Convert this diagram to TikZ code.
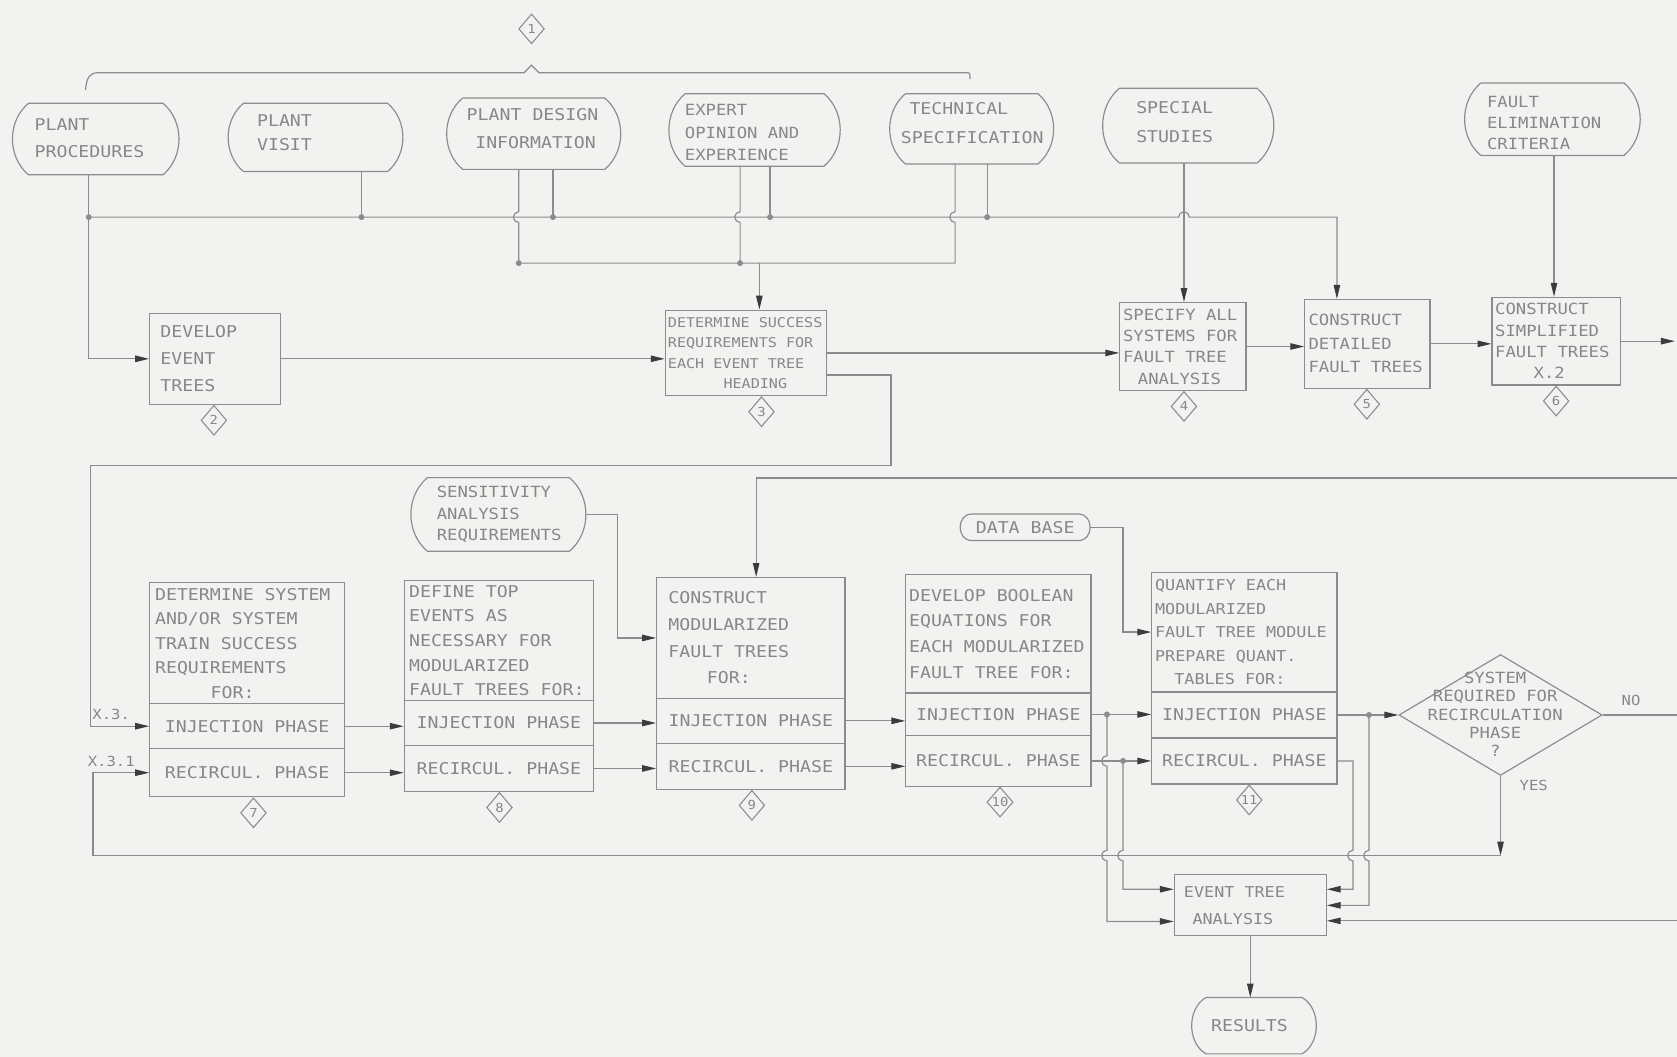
\documentclass[tikz,border=0pt]{standalone}
\usepackage{fontspec}
\newfontfamily\hand[FakeStretch=1.12]{DejaVu Sans Mono}
\usetikzlibrary{arrows.meta,shapes.geometric,fit}
\definecolor{bg}{RGB}{242,242,240}
\definecolor{lc}{RGB}{140,140,140}
\definecolor{tc}{RGB}{135,135,135}
\definecolor{ac}{RGB}{60,60,60}
\newcommand\hfs[2]{\hand\fontsize{#1}{#2}\selectfont}
\newcommand\leftblock[2]{\parbox{#1}{\raggedright #2}}
\newcommand\termoutline[2][bend left=50]{\draw[wire] (#2.north west) -- (#2.north east) to[#1] (#2.south east) -- (#2.south west) to[#1] (#2.north west);}
% text block centred in a box: name, width, font, text
\newcommand\boxtext[4]{\node[hdr,font=#3] (#1t) at (#1.center) {\leftblock{#2}{#4}};}
\newcommand\rowtext[2]{\node[txt] (#1t) at (#1.center) {#2};}
\tikzset{
 wire/.style={draw=lc,line width=0.55pt},
 warrow/.style={wire,-{Triangle[length=6.5pt,width=3pt,color=ac]}},
 procbox/.style={draw=lc,line width=0.55pt,rectangle,inner sep=0pt},
 termrect/.style={rectangle,inner sep=0pt},
 txt/.style={text=tc,inner sep=0pt,align=left,font=\hfs{7.6}{11.5}},
 hdr/.style={text=tc,inner sep=0pt},
 lbl/.style={text=tc,inner sep=0pt,font=\hfs{6.5}{7}},
 numtag/.style={draw=lc,line width=0.5pt,diamond,minimum width=12pt,minimum height=14pt,inner sep=0pt,text=tc,font=\hfs{5.8}{6}},
 decision/.style={draw=lc,line width=0.55pt,diamond,minimum width=95pt,minimum height=56.5pt,inner sep=0pt}
}
\begin{document}
\begin{tikzpicture}[x=0.5pt,y=-0.5pt]
\useasboundingbox (0,0) rectangle (1568,988);
\fill[bg] (0,0) rectangle (1568,988);

% ---------- top terminals ----------
\node[termrect,fit={(27,97) (152,163)}] (t1) {};
\termoutline{t1}
\node[txt,anchor=west,font=\hfs{7.6}{12.5}] (t1t) at (32,129) {PLANT\\PROCEDURES};
\node[termrect,fit={(228,97) (362,160)}] (t2) {};
\termoutline{t2}
\node[txt,anchor=west] (t2t) at (240,124) {PLANT\\VISIT};
\node[termrect,fit={(433,92) (565,158)}] (t3) {};
\termoutline{t3}
\node[txt,anchor=west,font=\hfs{7.6}{13}] (t3t) at (436,120) {PLANT DESIGN\\\hspace*{4pt}INFORMATION};
\node[termrect,fit={(641,88) (770,155)}] (t4) {};
\termoutline{t4}
\node[txt,anchor=west,font=\hfs{7.2}{10.5}] (t4t) at (640,124) {EXPERT\\OPINION AND\\EXPERIENCE};
\node[termrect,fit={(847,88) (970,153)}] (t5) {};
\termoutline{t5}
\node[txt,anchor=west,font=\hfs{7.6}{13.5}] (t5t) at (842,115) {\hspace*{4pt}TECHNICAL\\SPECIFICATION};
\node[termrect,fit={(1047,83) (1175,152)}] (t6) {};
\termoutline{t6}
\node[txt,anchor=west,font=\hfs{7.6}{13.5}] (t6t) at (1062,114) {SPECIAL\\STUDIES};
\node[termrect,fit={(1385,78) (1518,145)}] (t7) {};
\termoutline{t7}
\node[txt,anchor=west,font=\hfs{7.2}{10}] (t7t) at (1390,115) {FAULT\\ELIMINATION\\CRITERIA};

% bracket with tag 1
\draw[wire] (80,84) .. controls (81,72) and (84,68) .. (92,68) -- (490,68) -- (497,61) -- (504,68) -- (903,68) .. controls (907,68) .. (907,74);
\node[numtag] (d1) at (497,27) {1};

% ---------- row 1 boxes ----------
\node[procbox,fit={(140,293) (262,378)}] (n2) {};
\boxtext{n2}{51pt}{\hfs{7.6}{12.5}}{DEVELOP\\EVENT\\TREES}
\node[procbox,fit={(622,290) (773,370)}] (n3) {};
\boxtext{n3}{73pt}{\hfs{6.3}{9.5}}{DETERMINE SUCCESS\\REQUIREMENTS FOR\\EACH EVENT TREE\\\hspace*{26pt}HEADING}
\node[procbox,fit={(1047,283) (1165,365)}] (n4) {};
\boxtext{n4}{56pt}{\hfs{7.2}{10}}{SPECIFY ALL\\SYSTEMS FOR\\FAULT TREE\\\hspace*{7pt}ANALYSIS}
\node[procbox,fit={(1220,280) (1337,363)}] (n5) {};
\boxtext{n5}{55pt}{\hfs{7.2}{11}}{CONSTRUCT\\DETAILED\\FAULT TREES}
\node[procbox,fit={(1395,278) (1515,360)}] (n6) {};
\boxtext{n6}{57pt}{\hfs{7.2}{10}}{CONSTRUCT\\SIMPLIFIED\\FAULT TREES\\\hspace*{18pt}X.2}

\node[numtag] (d2) at (200,393) {2};
\node[numtag] (d3) at (712,385) {3};
\node[numtag] (d4) at (1107,380) {4};
\node[numtag] (d5) at (1278,378) {5};
\node[numtag] (d6) at (1455,375) {6};

% ---------- row 2 boxes ----------
\node[procbox,fit={(140,545) (322,658)}] (n7h) {};
\boxtext{n7h}{86pt}{\hfs{7.6}{11.5}}{DETERMINE SYSTEM\\AND/OR SYSTEM\\TRAIN SUCCESS\\REQUIREMENTS\\\hspace*{26pt}FOR:}
\node[procbox,fit={(140,658) (322,700)}] (n7i) {};
\rowtext{n7i}{INJECTION PHASE}
\node[procbox,fit={(140,700) (322,745)}] (n7r) {};
\rowtext{n7r}{RECIRCUL. PHASE}

\node[procbox,fit={(378,543) (555,655)}] (n8h) {};
\boxtext{n8h}{84pt}{\hfs{7.6}{11.5}}{DEFINE TOP\\EVENTS AS\\NECESSARY FOR\\MODULARIZED\\FAULT TREES FOR:}
\node[procbox,fit={(378,655) (555,697)}] (n8i) {};
\rowtext{n8i}{INJECTION PHASE}
\node[procbox,fit={(378,697) (555,740)}] (n8r) {};
\rowtext{n8r}{RECIRCUL. PHASE}

\node[procbox,fit={(614,540) (790,653)}] (n9h) {};
\boxtext{n9h}{77pt}{\hfs{7.6}{12.5}}{CONSTRUCT\\MODULARIZED\\FAULT TREES\\\hspace*{18pt}FOR:}
\node[procbox,fit={(614,653) (790,695)}] (n9i) {};
\rowtext{n9i}{INJECTION PHASE}
\node[procbox,fit={(614,695) (790,738)}] (n9r) {};
\rowtext{n9r}{RECIRCUL. PHASE}

\node[procbox,fit={(847,537) (1020,648)}] (n10h) {};
\boxtext{n10h}{83.5pt}{\hfs{7.6}{12}}{DEVELOP BOOLEAN\\EQUATIONS FOR\\EACH MODULARIZED\\FAULT TREE FOR:}
\node[procbox,fit={(847,648) (1020,688)}] (n10i) {};
\rowtext{n10i}{INJECTION PHASE}
\node[procbox,fit={(847,688) (1020,735)}] (n10r) {};
\rowtext{n10r}{RECIRCUL. PHASE}

\node[procbox,fit={(1077,535) (1250,647)}] (n11h) {};
\boxtext{n11h}{83.5pt}{\hfs{7}{11}}{QUANTIFY EACH\\MODULARIZED\\FAULT TREE MODULE\\PREPARE QUANT.\\\hspace*{9pt}TABLES FOR:}
\node[procbox,fit={(1077,647) (1250,690)}] (n11i) {};
\rowtext{n11i}{INJECTION PHASE}
\node[procbox,fit={(1077,690) (1250,733)}] (n11r) {};
\rowtext{n11r}{RECIRCUL. PHASE}

\node[numtag] (d7) at (237,760) {7};
\node[numtag] (d8) at (467,755) {8};
\node[numtag] (d9) at (703,753) {9};
\node[numtag] (d10) at (935,750) {10};
\node[numtag] (d11) at (1168,748) {11};

% inputs of row 2
\node[termrect,fit={(400,447) (532,515)}] (sens) {};
\termoutline{sens}
\node[txt,anchor=west,font=\hfs{7.2}{10}] (senst) at (408,481) {SENSITIVITY\\ANALYSIS\\REQUIREMENTS};
\node[termrect,fit={(909,481) (1008,505)}] (db) {};
\termoutline[bend left=90,looseness=1.5]{db}
\node[txt,anchor=west,font=\hfs{7.6}{8}] (dbt) at (912,493) {DATA BASE};

% decision
\node[decision] (dec) at (1403,668.5) {};
\node[txt,align=center,font=\hfs{7.2}{8.5}] (dect) at (1398,668) {SYSTEM\\REQUIRED FOR\\RECIRCULATION\\PHASE\\?};
\node[lbl] (lno) at (1525,655) {NO};
\node[lbl] (lyes) at (1434,734) {YES};

% event tree analysis and results
\node[procbox,fit={(1098,818) (1240,875)}] (eta) {};
\boxtext{eta}{62pt}{\hfs{7}{12.5}}{EVENT TREE\\\hspace*{4pt}ANALYSIS}
\node[termrect,fit={(1128,933) (1217,985)}] (res) {};
\termoutline[bend left=60]{res}
\node[txt,anchor=west,font=\hfs{7.6}{8}] (rest) at (1132,959) {RESULTS};

% ---------- connectors, top part ----------
\draw[warrow] (t1.south -| 83,0) |- (n2.west);
\draw[warrow] (83,203) -- (1102,203) arc[start angle=180,end angle=0,radius=2.5pt] -| (n5.north -| 1250,0);
\draw[wire] (t2.south -| 338,0) -- (338,203);
\draw[wire] (t3.south -| 517,0) -- (517,203);
\draw[wire] (t3.south -| 485,0) -- (485,198) arc[start angle=90,end angle=270,radius=2.5pt] -- (485,246);
\draw[wire] (t4.south -| 720,0) -- (720,203);
\draw[wire] (t4.south -| 692,0) -- (692,198) arc[start angle=90,end angle=270,radius=2.5pt] -- (692,246);
\draw[wire] (t5.south -| 923,0) -- (923,203);
\draw[wire] (t5.south -| 893,0) -- (893,198) arc[start angle=90,end angle=270,radius=2.5pt] -- (893,246) -- (485,246);
\draw[warrow] (710,246) -- (n3.north -| 710,0);
\draw[warrow] (t6.south -| 1107,0) -- (n4.north -| 1107,0);
\draw[warrow] (t7.south -| 1453,0) -- (n6.north -| 1453,0);
\foreach \p in {(83,203),(338,203),(517,203),(720,203),(923,203),(485,246),(692,246)}
  \fill[lc] \p circle[radius=1.4pt];

% row 1 flow
\draw[warrow] (n2.east) -- (n2.east -| n3.west);
\draw[warrow] (n3.east) -- (n3.east -| n4.west);
\draw[warrow] (n4.east) -- (n4.east -| n5.west);
\draw[warrow] (n5.east) -- (n5.east -| n6.west);
\coordinate (out6) at (1566,0);
\draw[warrow] (n6.east) -- (n6.east -| out6);

% loop from 3 to 7 (X.3)
\draw[warrow] ([yshift=10pt]n3.south east) -| (833,435) -- (85,435) |- (n7i.west);
\node[lbl] (lx3) at (104,668) {X.3.};

% YES loop (X.3.1)
\coordinate (yj) at (1403,800);
\draw[warrow] (dec.south) -- (yj);
\draw[warrow] (yj) -- (87,800) |- (n7r.west);
\node[lbl] (lx31) at (104,712) {X.3.1};

% NO
\coordinate (outno) at (1568,0);
\draw[wire] (dec.east) -- (dec.east -| outno);

% inputs
\draw[warrow] ([xshift=7.5pt]sens.east) -- (sens.east -| 577,0) |- (n9h.west);
\draw[warrow] ([xshift=5.5pt]db.east) -- (db.east -| 1050,0) |- (n11h.west);
\coordinate (in447) at (1568,447);
\draw[warrow] (in447) -| (n9h.north -| 707,0);

% row 2 flow
\draw[warrow] (n7i.east) -- (n7i.east -| n8i.west);
\draw[warrow] (n7r.east) -- (n7r.east -| n8r.west);
\draw[warrow] (n8i.east) -- (n8i.east -| n9i.west);
\draw[warrow] (n8r.east) -- (n8r.east -| n9r.west);
\draw[warrow] (n9i.east) -- (n9i.east -| n10i.west);
\draw[warrow] (n9r.east) -- (n9r.east -| n10r.west);
\draw[warrow] (n10i.east) -- (n10i.east -| n11i.west);
\draw[warrow] (n10r.east) -- (n10r.east -| n11r.west);
\draw[warrow] (n11i.east) -- (n11i.east -| dec.west);

% branches to event tree analysis
\coordinate (b10i) at (n10i.east -| 1035,0);
\coordinate (b10r) at (n10r.east -| 1050,0);
\coordinate (b11i) at (n11i.east -| 1280,0);
\fill[lc] (b10i) circle[radius=1.4pt];
\fill[lc] (b10r) circle[radius=1.4pt];
\fill[lc] (b11i) circle[radius=1.4pt];
\draw[warrow] (b10i) -- (1035,706.5) arc[start angle=90,end angle=270,radius=2.5pt] -- (1035,795) arc[start angle=90,end angle=270,radius=2.5pt] |- ([yshift=7pt]eta.south west);
\draw[warrow] (b10r) -- (1050,795) arc[start angle=90,end angle=270,radius=2.5pt] |- ([yshift=-7pt]eta.north west);
\draw[warrow] (n11r.east) -- (n11r.east -| 1265,0) -- (1265,795) arc[start angle=90,end angle=270,radius=2.5pt] |- ([yshift=-7pt]eta.north east);
\draw[warrow] (b11i) -- (1280,795) arc[start angle=90,end angle=270,radius=2.5pt] |- (eta.east);
\coordinate (in861) at (1568,861);
\draw[warrow] (in861) -- (in861 -| eta.east);
\draw[warrow] (eta.south) -- (eta.south |- res.north);
\end{tikzpicture}
\end{document}
